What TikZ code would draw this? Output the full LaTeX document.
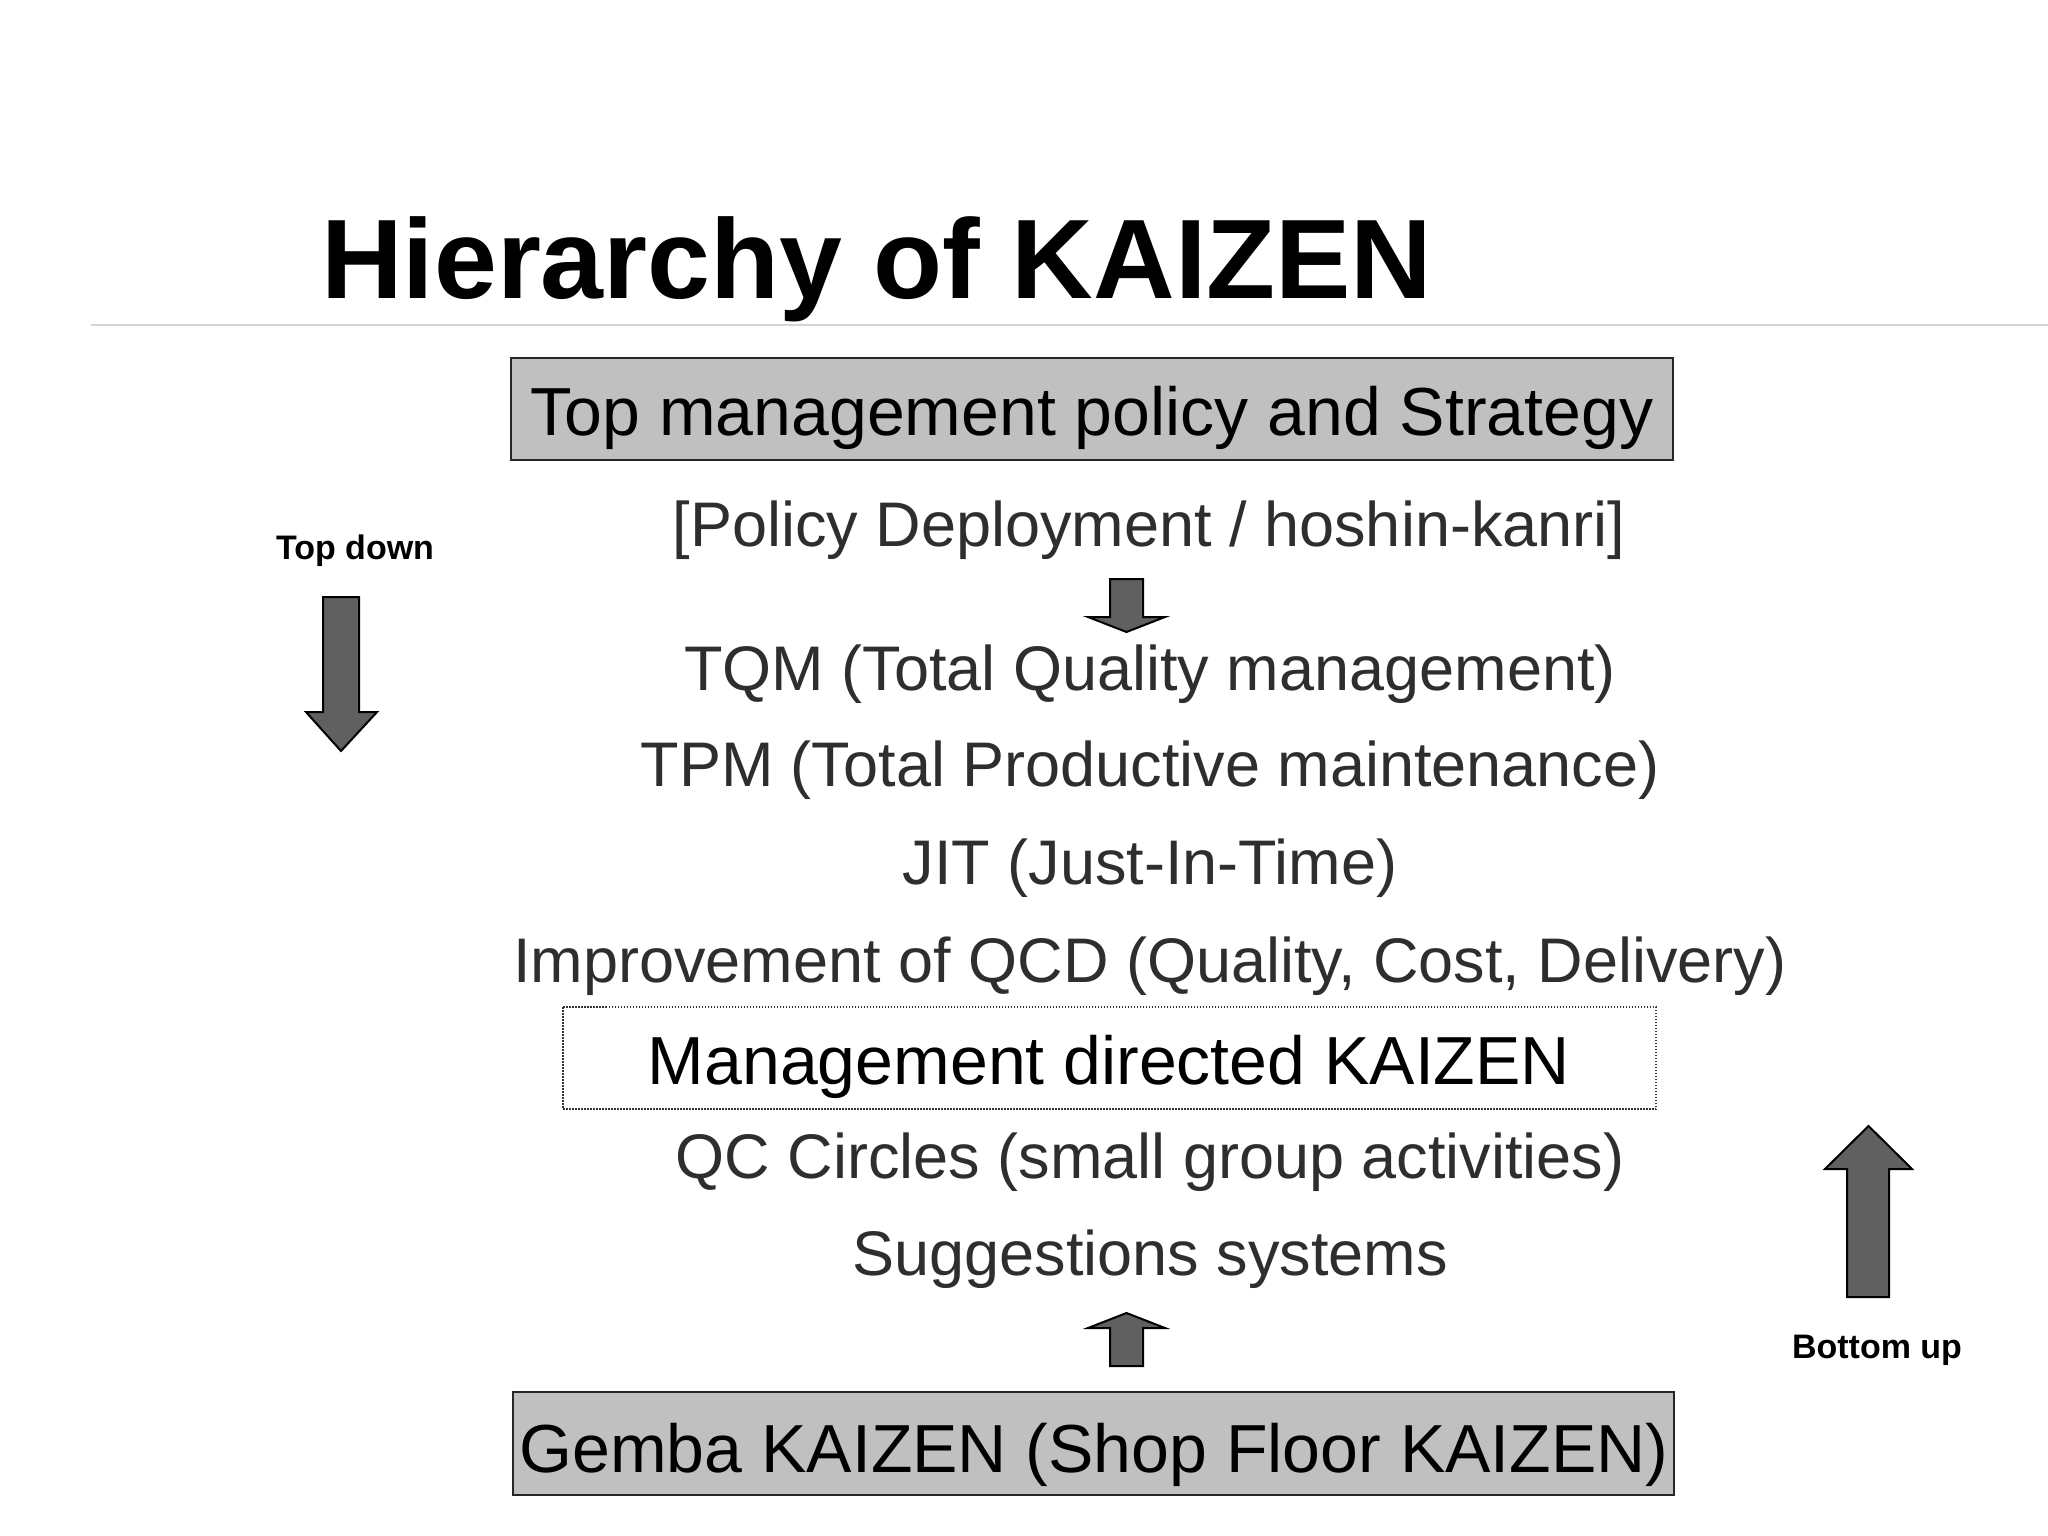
\documentclass[tikz,border=0pt]{standalone}
\usepackage{fontspec}
\setmainfont{Liberation Sans}
\definecolor{boxgray}{HTML}{C0C0C0}
\definecolor{arrowgray}{HTML}{606060}
\definecolor{txtgray}{HTML}{2E2E2E}
\definecolor{rulegray}{HTML}{D4D4D4}
\begin{document}
\begin{tikzpicture}[x=1pt,y=-1pt,
  big/.style={font=\fontsize{68}{80}\selectfont, text=black, inner sep=0pt, anchor=base},
  item/.style={font=\fontsize{63}{75}\selectfont, text=txtgray, inner sep=0pt, anchor=base},
  side/.style={font=\fontsize{34}{40}\selectfont\bfseries, text=black, inner sep=0pt, anchor=base},
  graybox/.style={draw=black!85, line width=2.5pt, fill=boxgray},
  blockarrow/.style={draw=black, line width=2pt, fill=arrowgray, line join=miter}]
\fill[white] (0,0) rectangle (2048,1536);
\useasboundingbox (0,0) rectangle (2048,1536);
% title
\node[font=\fontsize{113}{130}\selectfont\bfseries, inner sep=0pt, anchor=base west] (title) at (321,298) {Hierarchy of KAIZEN};
\draw[rulegray, line width=2.5pt] (91,325) -- (2048,325);
% top box
\draw[graybox] (511,358) rectangle (1673,460);
\node[big] (top) at (1092,435) {Top management policy and Strategy};
\node[item] (policy) at (1149,546) {[Policy Deployment / hoshin-kanri]};
% small down arrow
\draw[blockarrow] (1110,579) -- (1143,579) -- (1143,617) -- (1165,617) -- (1126.5,632) -- (1088,617) -- (1110,617) -- cycle;
\node[item] (tqm) at (1150,690) {TQM (Total Quality management)};
\node[item] (tpm) at (1150,786) {TPM (Total Productive maintenance)};
\node[item] (jit) at (1150,884) {JIT (Just-In-Time)};
\node[item] (qcd) at (1150,982) {Improvement of QCD (Quality, Cost, Delivery)};
% dotted box
\draw[black!80, line width=1.5pt, dash pattern=on 1.5pt off 1.5pt] (563,1007) rectangle (1656,1109);
\node[big] (mdk) at (1109,1084) {Management directed KAIZEN};
\node[item] (qc) at (1150,1178) {QC Circles (small group activities)};
\node[item] (sugg) at (1150,1275) {Suggestions systems};
% small up arrow
\draw[blockarrow] (1110,1366) -- (1143,1366) -- (1143,1328) -- (1165,1328) -- (1126.5,1313) -- (1088,1328) -- (1110,1328) -- cycle;
% bottom box
\draw[graybox] (513,1392) rectangle (1674,1495);
\node[big] (gemba) at (1094,1472) {Gemba KAIZEN (Shop Floor KAIZEN)};
% side labels and arrows
\node[side] (topdown) at (355,559) {Top down};
\draw[blockarrow] (323,597) -- (359,597) -- (359,712) -- (377,712) -- (341,751) -- (306,712) -- (323,712) -- cycle;
\node[side] (bottomup) at (1877,1358) {Bottom up};
\draw[blockarrow] (1847,1297) -- (1889,1297) -- (1889,1169) -- (1912,1169) -- (1868.5,1126) -- (1825,1169) -- (1847,1169) -- cycle;
\end{tikzpicture}
\end{document}
